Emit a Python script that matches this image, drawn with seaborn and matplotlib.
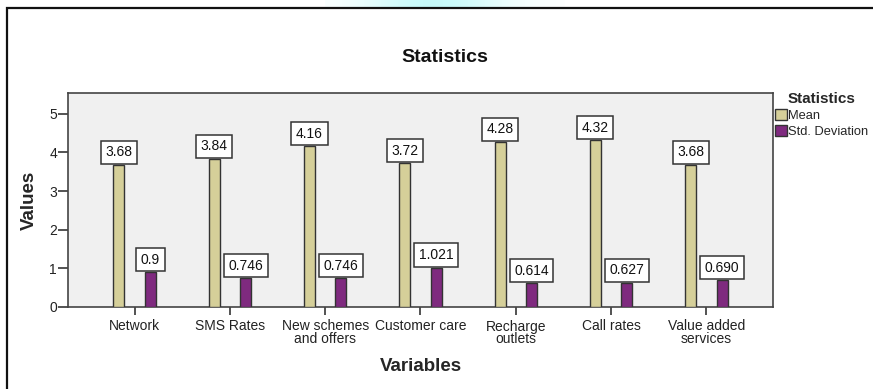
import numpy as np
import pandas as pd
import matplotlib
matplotlib.use("Agg")
import matplotlib.pyplot as plt
import matplotlib.patches as mpatches
import seaborn as sns

# ---- data ----
variables = ["Network", "SMS Rates", "New schemes and offers", "Customer care",
             "Recharge outlets", "Call rates", "Value added services"]
tick_labels = ["Network", "SMS Rates", "New schemes\nand offers", "Customer care",
               "Recharge\noutlets", "Call rates", "Value added\nservices"]
mean_values = [3.68, 3.84, 4.16, 3.72, 4.28, 4.32, 3.68]
sd_values = [0.9, 0.746, 0.746, 1.021, 0.614, 0.627, 0.690]
mean_text = ["3.68", "3.84", "4.16", "3.72", "4.28", "4.32", "3.68"]
sd_text = ["0.9", "0.746", "0.746", "1.021", "0.614", "0.627", "0.690"]
stat_names = ["Mean", "Std. Deviation"]

df = pd.DataFrame({
    "Variable": variables * 2,
    "Statistic": [stat_names[0]] * len(variables) + [stat_names[1]] * len(variables),
    "Value": mean_values + sd_values,
})

sns.set_style("white")
plt.rcParams["font.family"] = ["Liberation Sans", "DejaVu Sans"]

W, H = 873, 389
fig = plt.figure(figsize=(W / 100, H / 100), dpi=100)

# outer frame of the chart panel
frame = mpatches.Rectangle((7 / W, -0.05), 1.0, 1 - 8 / H + 0.05, transform=fig.transFigure,
                           fill=False, edgecolor="#111111", linewidth=1.6, zorder=0)
fig.patches.append(frame)

# faint cyan glow above the frame
glow_ax = fig.add_axes([325 / W, 1 - 7 / H, 240 / W, 7 / H])
xs = np.linspace(-1, 1, 240)
strength = np.exp(-((xs + 0.1) / 0.6) ** 2)
rgb = np.ones((1, 240, 3))
rgb[0, :, 0] = 1 - strength * 0.22
rgb[0, :, 1] = 1 - strength * 0.02
rgb[0, :, 2] = 1 - strength * 0.02
glow_ax.imshow(rgb, aspect="auto")
glow_ax.axis("off")

ax = fig.add_axes([68 / W, (H - 307) / H, (773 - 68) / W, (307 - 93) / H])
ax.set_facecolor("#F0F0F0")

colors = ["#D5CF99", "#7F2A7F"]
sns.barplot(data=df, x="Variable", y="Value", hue="Statistic", order=variables,
            hue_order=stat_names, palette=colors, width=0.66, edgecolor="#333333",
            linewidth=1.0, saturation=1, ax=ax, zorder=3)

# slim the bars around their dodged centres
bar_w = 0.115
for container in ax.containers:
    for p in container:
        c = p.get_x() + p.get_width() / 2
        p.set_width(bar_w)
        p.set_x(c - bar_w / 2)

# value boxes sitting on top of each bar
for container, texts in zip(ax.containers, [mean_text, sd_text]):
    for p, t in zip(container, texts):
        ax.annotate(t, (p.get_x() + p.get_width() / 2, p.get_height()),
                    xytext=(0, 4.0), textcoords="offset points", ha="center", va="bottom",
                    fontsize=10, color="#111111", zorder=5,
                    bbox=dict(boxstyle="square,pad=0.33", facecolor="white",
                              edgecolor="#333333", linewidth=1.1))

ax.set_xlim(-0.70, 6.70)
ax.set_ylim(0, 5.54)
ax.set_yticks([0, 1, 2, 3, 4, 5])
ax.set_xticks(range(len(variables)))
ax.set_xticklabels(tick_labels, linespacing=0.85)

for s in ax.spines.values():
    s.set_color("#444444")
    s.set_linewidth(1.2)

ax.tick_params(axis="y", direction="out", length=7, width=1.3, color="#444444",
               labelsize=10, labelcolor="#222222", pad=1, left=True)
ax.tick_params(axis="x", direction="out", length=6, width=1.3, color="#444444",
               labelsize=10, labelcolor="#222222", pad=3, bottom=True)

ax.set_xlabel("Variables", fontsize=13.5, fontweight="bold", labelpad=9)
ax.set_ylabel("Values", fontsize=13.5, fontweight="bold", labelpad=8)

fig.text(445 / W, 1 - 58 / H, "Statistics", ha="center", va="center",
         fontsize=14, fontweight="bold", color="#111111")

handles, labels = ax.get_legend_handles_labels()
if ax.get_legend() is not None:
    ax.get_legend().remove()
leg = fig.legend(handles, labels, title="Statistics", loc="upper left",
                 bbox_to_anchor=(775 / W, 1 - 92 / H), frameon=False,
                 fontsize=9.3, title_fontproperties={"weight": "bold", "size": 11},
                 handlelength=0.9, handleheight=0.9, handletextpad=0.1,
                 labelspacing=0.25, borderpad=0, borderaxespad=0)

fig.savefig("out.png", dpi=100, facecolor="white")
